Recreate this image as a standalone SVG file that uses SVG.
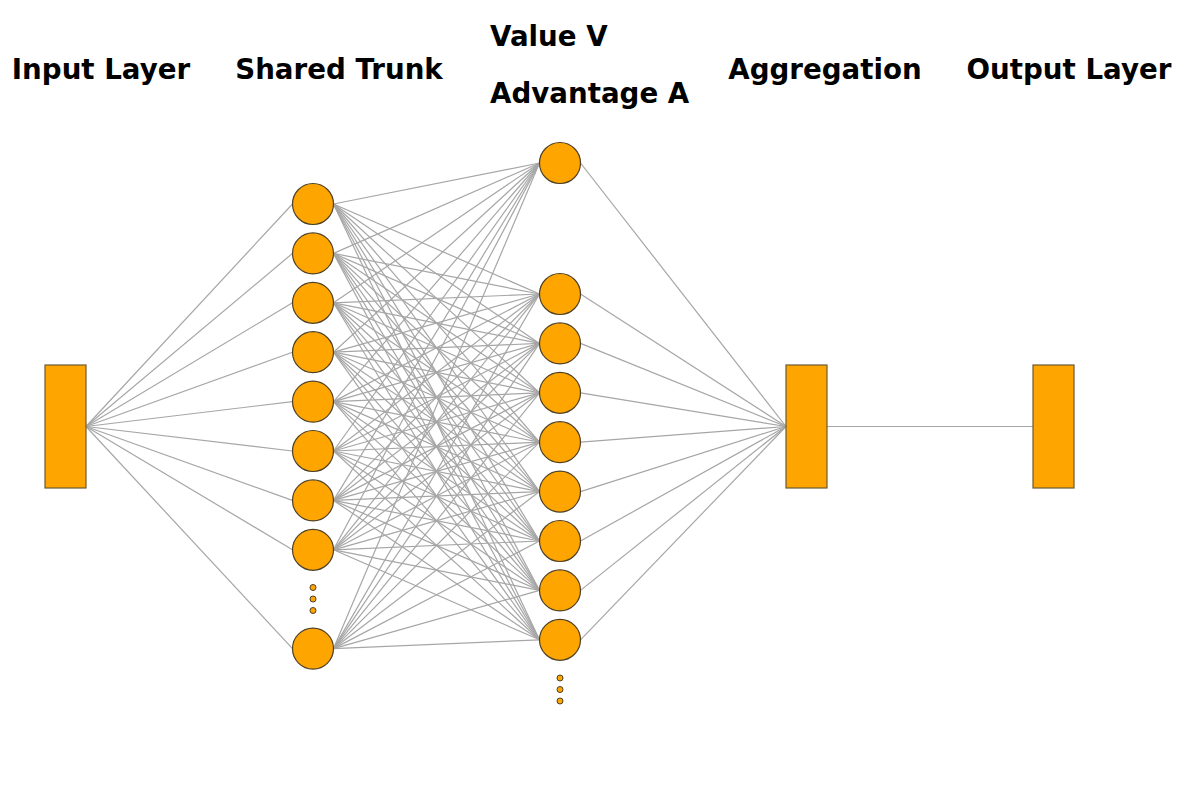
<svg xmlns="http://www.w3.org/2000/svg" width="1200" height="800" viewBox="0 0 1200 800">
<style>
.lbl{font-family:"DejaVu Sans","Liberation Sans",sans-serif;font-weight:bold;font-size:27.7px;fill:#000}
.e line{stroke:#a6a6a6;stroke-width:1.2}
.n{fill:#FFA500;stroke:#4d4026;stroke-width:1.2}
.b{fill:#FFA500;stroke:#6b5a33;stroke-width:1.2}
.d{fill:#FFA500;stroke:#4d4026;stroke-width:1}
</style>
<rect width="1200" height="800" fill="#fff"/>
<g id="labels">
<text class="lbl" x="101" y="79" text-anchor="middle">Input Layer</text>
<text class="lbl" x="339" y="79" text-anchor="middle">Shared Trunk</text>
<text class="lbl" x="490" y="46">Value V</text>
<text class="lbl" x="490" y="103">Advantage A</text>
<text class="lbl" x="825" y="79" text-anchor="middle">Aggregation</text>
<text class="lbl" x="1069" y="79" text-anchor="middle">Output Layer</text>
</g>
<g id="connectors" class="e">
<line x1="86" y1="426.5" x2="292.5" y2="204"/>
<line x1="86" y1="426.5" x2="292.5" y2="253.4"/>
<line x1="86" y1="426.5" x2="292.5" y2="302.8"/>
<line x1="86" y1="426.5" x2="292.5" y2="352.2"/>
<line x1="86" y1="426.5" x2="292.5" y2="401.6"/>
<line x1="86" y1="426.5" x2="292.5" y2="451"/>
<line x1="86" y1="426.5" x2="292.5" y2="500.4"/>
<line x1="86" y1="426.5" x2="292.5" y2="549.8"/>
<line x1="86" y1="426.5" x2="292.5" y2="648.6"/>

<line x1="333.5" y1="204" x2="539.5" y2="163"/>
<line x1="333.5" y1="204" x2="539.5" y2="294"/>
<line x1="333.5" y1="204" x2="539.5" y2="343.4"/>
<line x1="333.5" y1="204" x2="539.5" y2="392.8"/>
<line x1="333.5" y1="204" x2="539.5" y2="442.2"/>
<line x1="333.5" y1="204" x2="539.5" y2="491.6"/>
<line x1="333.5" y1="204" x2="539.5" y2="541"/>
<line x1="333.5" y1="204" x2="539.5" y2="590.4"/>
<line x1="333.5" y1="204" x2="539.5" y2="639.8"/>

<line x1="333.5" y1="253.4" x2="539.5" y2="163"/>
<line x1="333.5" y1="253.4" x2="539.5" y2="294"/>
<line x1="333.5" y1="253.4" x2="539.5" y2="343.4"/>
<line x1="333.5" y1="253.4" x2="539.5" y2="392.8"/>
<line x1="333.5" y1="253.4" x2="539.5" y2="442.2"/>
<line x1="333.5" y1="253.4" x2="539.5" y2="491.6"/>
<line x1="333.5" y1="253.4" x2="539.5" y2="541"/>
<line x1="333.5" y1="253.4" x2="539.5" y2="590.4"/>
<line x1="333.5" y1="253.4" x2="539.5" y2="639.8"/>

<line x1="333.5" y1="302.8" x2="539.5" y2="163"/>
<line x1="333.5" y1="302.8" x2="539.5" y2="294"/>
<line x1="333.5" y1="302.8" x2="539.5" y2="343.4"/>
<line x1="333.5" y1="302.8" x2="539.5" y2="392.8"/>
<line x1="333.5" y1="302.8" x2="539.5" y2="442.2"/>
<line x1="333.5" y1="302.8" x2="539.5" y2="491.6"/>
<line x1="333.5" y1="302.8" x2="539.5" y2="541"/>
<line x1="333.5" y1="302.8" x2="539.5" y2="590.4"/>
<line x1="333.5" y1="302.8" x2="539.5" y2="639.8"/>

<line x1="333.5" y1="352.2" x2="539.5" y2="163"/>
<line x1="333.5" y1="352.2" x2="539.5" y2="294"/>
<line x1="333.5" y1="352.2" x2="539.5" y2="343.4"/>
<line x1="333.5" y1="352.2" x2="539.5" y2="392.8"/>
<line x1="333.5" y1="352.2" x2="539.5" y2="442.2"/>
<line x1="333.5" y1="352.2" x2="539.5" y2="491.6"/>
<line x1="333.5" y1="352.2" x2="539.5" y2="541"/>
<line x1="333.5" y1="352.2" x2="539.5" y2="590.4"/>
<line x1="333.5" y1="352.2" x2="539.5" y2="639.8"/>

<line x1="333.5" y1="401.6" x2="539.5" y2="163"/>
<line x1="333.5" y1="401.6" x2="539.5" y2="294"/>
<line x1="333.5" y1="401.6" x2="539.5" y2="343.4"/>
<line x1="333.5" y1="401.6" x2="539.5" y2="392.8"/>
<line x1="333.5" y1="401.6" x2="539.5" y2="442.2"/>
<line x1="333.5" y1="401.6" x2="539.5" y2="491.6"/>
<line x1="333.5" y1="401.6" x2="539.5" y2="541"/>
<line x1="333.5" y1="401.6" x2="539.5" y2="590.4"/>
<line x1="333.5" y1="401.6" x2="539.5" y2="639.8"/>

<line x1="333.5" y1="451" x2="539.5" y2="163"/>
<line x1="333.5" y1="451" x2="539.5" y2="294"/>
<line x1="333.5" y1="451" x2="539.5" y2="343.4"/>
<line x1="333.5" y1="451" x2="539.5" y2="392.8"/>
<line x1="333.5" y1="451" x2="539.5" y2="442.2"/>
<line x1="333.5" y1="451" x2="539.5" y2="491.6"/>
<line x1="333.5" y1="451" x2="539.5" y2="541"/>
<line x1="333.5" y1="451" x2="539.5" y2="590.4"/>
<line x1="333.5" y1="451" x2="539.5" y2="639.8"/>

<line x1="333.5" y1="500.4" x2="539.5" y2="163"/>
<line x1="333.5" y1="500.4" x2="539.5" y2="294"/>
<line x1="333.5" y1="500.4" x2="539.5" y2="343.4"/>
<line x1="333.5" y1="500.4" x2="539.5" y2="392.8"/>
<line x1="333.5" y1="500.4" x2="539.5" y2="442.2"/>
<line x1="333.5" y1="500.4" x2="539.5" y2="491.6"/>
<line x1="333.5" y1="500.4" x2="539.5" y2="541"/>
<line x1="333.5" y1="500.4" x2="539.5" y2="590.4"/>
<line x1="333.5" y1="500.4" x2="539.5" y2="639.8"/>

<line x1="333.5" y1="549.8" x2="539.5" y2="163"/>
<line x1="333.5" y1="549.8" x2="539.5" y2="294"/>
<line x1="333.5" y1="549.8" x2="539.5" y2="343.4"/>
<line x1="333.5" y1="549.8" x2="539.5" y2="392.8"/>
<line x1="333.5" y1="549.8" x2="539.5" y2="442.2"/>
<line x1="333.5" y1="549.8" x2="539.5" y2="491.6"/>
<line x1="333.5" y1="549.8" x2="539.5" y2="541"/>
<line x1="333.5" y1="549.8" x2="539.5" y2="590.4"/>
<line x1="333.5" y1="549.8" x2="539.5" y2="639.8"/>

<line x1="333.5" y1="648.6" x2="539.5" y2="163"/>
<line x1="333.5" y1="648.6" x2="539.5" y2="294"/>
<line x1="333.5" y1="648.6" x2="539.5" y2="343.4"/>
<line x1="333.5" y1="648.6" x2="539.5" y2="392.8"/>
<line x1="333.5" y1="648.6" x2="539.5" y2="442.2"/>
<line x1="333.5" y1="648.6" x2="539.5" y2="491.6"/>
<line x1="333.5" y1="648.6" x2="539.5" y2="541"/>
<line x1="333.5" y1="648.6" x2="539.5" y2="590.4"/>
<line x1="333.5" y1="648.6" x2="539.5" y2="639.8"/>

<line x1="580.5" y1="163" x2="786" y2="426.5"/>
<line x1="580.5" y1="294" x2="786" y2="426.5"/>
<line x1="580.5" y1="343.4" x2="786" y2="426.5"/>
<line x1="580.5" y1="392.8" x2="786" y2="426.5"/>
<line x1="580.5" y1="442.2" x2="786" y2="426.5"/>
<line x1="580.5" y1="491.6" x2="786" y2="426.5"/>
<line x1="580.5" y1="541" x2="786" y2="426.5"/>
<line x1="580.5" y1="590.4" x2="786" y2="426.5"/>
<line x1="580.5" y1="639.8" x2="786" y2="426.5"/>

<line x1="827" y1="426.5" x2="1033" y2="426.5"/>
</g>
<g id="input-layer"><rect class="b" x="45" y="365" width="41" height="123"/></g>
<g id="shared-trunk">
<circle class="n" cx="313" cy="204" r="20.5"/>
<circle class="n" cx="313" cy="253.4" r="20.5"/>
<circle class="n" cx="313" cy="302.8" r="20.5"/>
<circle class="n" cx="313" cy="352.2" r="20.5"/>
<circle class="n" cx="313" cy="401.6" r="20.5"/>
<circle class="n" cx="313" cy="451" r="20.5"/>
<circle class="n" cx="313" cy="500.4" r="20.5"/>
<circle class="n" cx="313" cy="549.8" r="20.5"/>
<circle class="d" cx="313" cy="587.5" r="3"/>
<circle class="d" cx="313" cy="599" r="3"/>
<circle class="d" cx="313" cy="610.5" r="3"/>
<circle class="n" cx="313" cy="648.6" r="20.5"/>
</g>
<g id="value-v"><circle class="n" cx="560" cy="163" r="20.5"/></g>
<g id="advantage-a">
<circle class="n" cx="560" cy="294" r="20.5"/>
<circle class="n" cx="560" cy="343.4" r="20.5"/>
<circle class="n" cx="560" cy="392.8" r="20.5"/>
<circle class="n" cx="560" cy="442.2" r="20.5"/>
<circle class="n" cx="560" cy="491.6" r="20.5"/>
<circle class="n" cx="560" cy="541" r="20.5"/>
<circle class="n" cx="560" cy="590.4" r="20.5"/>
<circle class="n" cx="560" cy="639.8" r="20.5"/>
<circle class="d" cx="560" cy="678" r="3"/>
<circle class="d" cx="560" cy="689.5" r="3"/>
<circle class="d" cx="560" cy="701" r="3"/>
</g>
<g id="aggregation"><rect class="b" x="786" y="365" width="41" height="123"/></g>
<g id="output-layer"><rect class="b" x="1033" y="365" width="41" height="123"/></g>
</svg>
